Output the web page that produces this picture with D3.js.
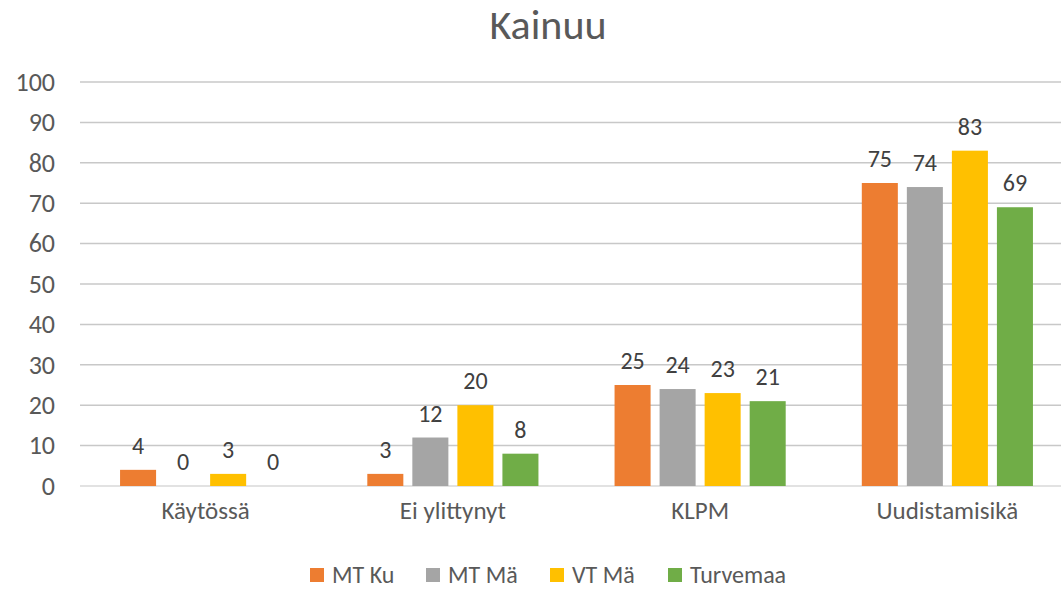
<!DOCTYPE html>
<html>
<head>
<meta charset="utf-8">
<script src="https://cdn.jsdelivr.net/npm/d3@7"></script>
<style>
  body { margin: 0; background: #fff; }
  text { font-family: Carlito, "Open Sans", sans-serif; }
</style>
</head>
<body>
<div id="chart-area"></div>
<script>
// data
var categories = ['Käytössä', 'Ei ylittynyt', 'KLPM', 'Uudistamisikä'];
var seriesNames = ['MT Ku', 'MT Mä', 'VT Mä', 'Turvemaa'];
var mtKu = [4, 3, 25, 75];
var mtMa = [0, 12, 24, 74];
var vtMa = [3, 20, 23, 83];
var turvemaa = [0, 8, 21, 69];
var yTicks = [0, 10, 20, 30, 40, 50, 60, 70, 80, 90, 100];
var colors = ['#ED7D31', '#A5A5A5', '#FFC000', '#70AD47'];

var seriesValues = [mtKu, mtMa, vtMa, turvemaa];

var width = 1061, height = 590;
var plotLeft = 82, plotRight = 1071, plotTop = 82, plotBottom = 486;

var svg = d3.select('#chart-area').append('svg')
    .attr('width', width)
    .attr('height', height);

var x = d3.scaleBand().domain(categories).range([plotLeft, plotRight]);
var x1 = d3.scaleBand().domain(seriesNames).range([0, x.bandwidth()]).paddingInner(0.2).paddingOuter(0.845);
var y = d3.scaleLinear().domain([0, 100]).range([plotBottom, plotTop]);

// title
svg.append('text')
    .attr('x', 548).attr('y', 39)
    .attr('text-anchor', 'middle')
    .attr('font-size', 42)
    .attr('fill', '#595959')
    .text('Kainuu');

// gridlines
svg.append('g').selectAll('line').data(yTicks).enter().append('line')
    .attr('x1', 80).attr('x2', width)
    .attr('y1', d => y(d)).attr('y2', d => y(d))
    .attr('stroke', d => d === 0 ? '#d9d9d9' : '#c8c8c8')
    .attr('stroke-width', 1.5);

// y axis labels
var yAxis = d3.axisLeft(y).tickValues(yTicks).tickSize(0).tickPadding(0);
var yg = svg.append('g').attr('transform', 'translate(55,0)').call(yAxis);
yg.select('.domain').remove();
yg.selectAll('text')
    .attr('font-size', 26)
    .attr('fill', '#595959')
    .attr('font-family', 'Carlito, "Open Sans", sans-serif');

// x axis labels
var xAxis = d3.axisBottom(x).tickSize(0).tickPadding(0);
var xg = svg.append('g').attr('transform', 'translate(0,510)').call(xAxis);
xg.select('.domain').remove();
xg.selectAll('text')
    .attr('font-size', 25)
    .attr('fill', '#595959')
    .attr('font-family', 'Carlito, "Open Sans", sans-serif')
    .attr('dy', '0.35em');

// bars
var rows = [];
categories.forEach((c, i) => {
    seriesNames.forEach((s, j) => {
        rows.push({cat: c, series: s, value: seriesValues[j][i], color: colors[j]});
    });
});

var bars = svg.selectAll('rect.bar').data(rows);
bars.enter().append('rect')
    .attr('class', 'bar')
    .attr('x', d => x(d.cat) + x1(d.series))
    .attr('y', d => y(d.value))
    .attr('width', x1.bandwidth())
    .attr('height', d => y(0) - y(d.value))
    .attr('fill', d => d.color);

svg.selectAll('text.lbl').data(rows).enter().append('text')
    .attr('class', 'lbl')
    .attr('x', d => x(d.cat) + x1(d.series) + x1.bandwidth() / 2)
    .attr('y', d => y(d.value) - 16)
    .attr('text-anchor', 'middle')
    .attr('font-size', 24)
    .attr('fill', '#404040')
    .text(d => d.value);

// legend
var legendX = [310, 426, 550, 668];
var legend = svg.append('g').selectAll('g').data(seriesNames).enter().append('g')
    .attr('transform', (d, i) => 'translate(' + legendX[i] + ',568)');
legend.append('rect')
    .attr('width', 14).attr('height', 14)
    .attr('fill', (d, i) => colors[i]);
legend.append('text')
    .attr('x', 22).attr('y', 15)
    .attr('font-size', 24)
    .attr('fill', '#595959')
    .text(d => d);
</script>
</body>
</html>
